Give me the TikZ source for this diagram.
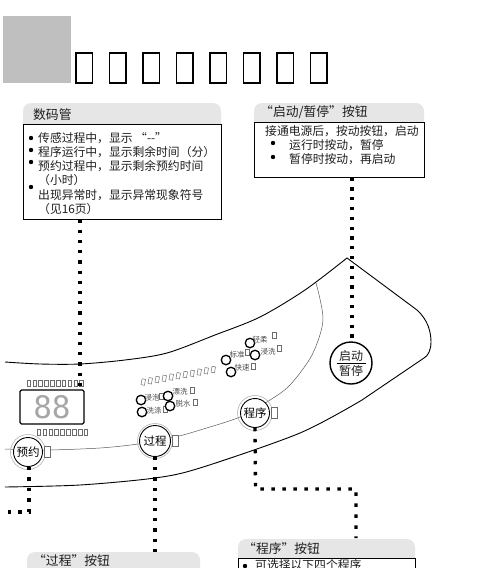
\documentclass[tikz,border=0pt]{standalone}
\usepackage{fontspec}
\setmainfont{Noto Sans CJK SC}
\newfontfamily\lcdfont{DejaVu Sans Mono}
\usetikzlibrary{calc, positioning}
\definecolor{headgray}{RGB}{230,230,230}
\definecolor{inkgray}{RGB}{30,30,30}
\tikzset{
  panelbox/.style={draw=black, line width=1pt, fill=white, inner sep=0pt},
  headtext/.style={anchor=west, inner sep=0pt, font=\fontsize{12.8}{13}\selectfont, text=inkgray},
  bodytext/.style={anchor=west, inner sep=0pt, font=\fontsize{11.8}{12}\selectfont, text=inkgray},
  dotline/.style={line width=3.3pt, dash pattern=on 3.3pt off #1},
  dotline/.default=6.9pt,
  btn/.style={circle, draw=black, line width=0.9pt, fill=white, inner sep=0pt, minimum size=29pt, font=\fontsize{11.5}{11.5}\selectfont},
  lamp/.style={circle, draw=black, line width=1.3pt, fill=white, inner sep=0pt, minimum size=9.5pt},
  lamptext/.style={inner sep=0pt, text=gray!60!black, font=\fontsize{7.5}{8}\selectfont},
  tofu/.style={draw=gray!85!black, line width=0.5pt, fill=white}
}
\begin{document}
\begin{tikzpicture}[x=1pt, y=-1pt]
\useasboundingbox (0,0) rectangle (500,568);

\fill[gray!50] (3,16) rectangle (71,83);
\foreach \i in {0,...,7}
  \draw[line width=1.1pt] ({76+33.5*\i},53) rectangle ({92.5+33.5*\i},83);

\draw[line width=0.9pt]
  plot[smooth] coordinates {(5,362) (40,364) (80,364) (125,360) (167,353) (215,335) (260,317) (305,290) (347,258)}
  -- (417,310) .. controls (428,320) and (431,332) .. (431,342)
  .. controls (431,350) and (428,356) .. (424,358)
  -- (362,400)
  plot[smooth] coordinates {(362,400) (300,433) (200,468) (155,478) (80,485) (5,487)};

\draw[gray!70!black, line width=0.5pt]
  plot[smooth] coordinates {(316,283) (323,320) (312,355) (290,385) (270,400) (240,417) (200,430) (175,437) (138,444) (100,448) (47,450) (5,449)};

\node[panelbox, minimum width=198pt, minimum height=95pt] (tubebox) at (122,171.5) {};
\node[panelbox, minimum width=170pt, minimum height=55pt] (startbox) at (339,149.5) {};
\coordinate (tubefoot) at (80,388);

\node[btn] (btnyuyue) at (28,452) {预约};
\node[btn, minimum size=31pt] (btnguocheng) at (155,441) {过程};
\node[btn] (btnchengxu) at (255,413) {程序};
\node[circle, draw=black, line width=1.4pt, fill=white, minimum size=42pt, inner sep=0pt] (btnstart) at (351,363) {};
\foreach \b in {btnyuyue,btnguocheng,btnchengxu} {
  \draw[gray!70, line width=0.5pt] (\b) circle (17.5);
  \draw[tofu] ($(\b.east)+(1.5,-5.5)$) rectangle ($(\b.east)+(7,5.5)$);
}
\node[inner sep=0pt, font=\fontsize{12}{12}\selectfont, text=inkgray] (txtstart) at (351,356) {启动};
\node[inner sep=0pt, font=\fontsize{12}{12}\selectfont, text=inkgray] (txtpause) at (351,371) {暂停};
\draw[line width=0.7pt] ($(btnstart)+(-14.5,0.5)$) -- ($(btnstart)+(14.5,0.5)$);

\node[draw=black, rounded corners=1.5pt, line width=1.2pt, minimum width=64pt, minimum height=34pt, inner sep=0pt, text=gray!70, font=\lcdfont\fontsize{31}{31}\selectfont] (dispbox) at (52,407) {88};

\foreach \i in {0,...,9}
  \draw[tofu] ({27+5.85*\i},380.5) rectangle ({30.5+5.85*\i},386.5);
\foreach \i in {0,...,8}
  \draw[tofu] ({37+5.9*\i},429) rectangle ({40.5+5.9*\i},435);
\foreach \i in {0,...,10}
  \draw[tofu, rotate around={-10:({143+7*\i},{382-1.25*\i})}] ({141.5+7*\i},{379-1.25*\i}) rectangle ({145+7*\i},{385-1.25*\i});

\foreach \n/\x/\y/\tx/\ty/\fx/\fy/\txt in {
  a/141/400/152/398/161/396/浸泡,
  b/142/412/154/411/165/409/洗涤,
  c/168/396/180/392/192/390/漂洗,
  d/170/406/183/404/195/402/脱水,
  e/226/360/237/355/247/352/标准,
  f/231/372/242/368/253/366/快速,
  g/250/343/260/340/274/335/轻柔,
  h/255/355/268/352/279/348/浸洗} {
  \node[lamp] (lamp\n) at (\x,\y) {};
  \node[lamptext] (lamptxt\n) at (\tx,\ty) {\txt};
  \draw[tofu] ({\fx-1.8},{\fy-3}) rectangle ({\fx+1.8},{\fy+3});
}

\fill[headgray, rounded corners=8pt] (23,103) rectangle (221,135);
\node[panelbox, minimum width=198pt, minimum height=95pt] at (tubebox) {};
\node[headtext] (headtube) at (33,115) {数码管};
\fill[black] (31,138) circle (2.2);
\fill[black] (31,150) circle (2.2);
\fill[black] (31,162) circle (2.2);
\fill[black] (31,187) circle (2.2);
\foreach \n/\y/\txt in {
  a/138/传感过程中，显示 “-{}-”,
  b/152/程序运行中，显示剩余时间（分）,
  c/166/预约过程中，显示剩余预约时间,
  d/180/（小时）,
  e/195/出现异常时，显示异常现象符号,
  f/209/（见16页）}
  \node[bodytext] (tubeline\n) at (38,\y) {\txt};

\fill[headgray, rounded corners=8pt] (254,103) rectangle (424,135);
\node[panelbox, minimum width=170pt, minimum height=55pt] at (startbox) {};
\node[headtext] (headstart) at (260,112) {“启动/暂停”按钮};
\node[bodytext] (startlinea) at (265,131) {接通电源后，按动按钮，启动};
\fill[black] (273,143) circle (2.2);
\fill[black] (273,157) circle (2.2);
\node[bodytext] (startlineb) at (289,145) {运行时按动，暂停};
\node[bodytext] (startlinec) at (289,159) {暂停时按动，再启动};

\fill[headgray, rounded corners=8pt] (27,552) rectangle (200,590);
\node[headtext] (headproc) at (33,561) {“过程”按钮};

\fill[headgray, rounded corners=8pt] (238,539) rectangle (415,590);
\node[panelbox, minimum width=177pt, minimum height=30pt] (progbox) at (326.5,573) {};
\node[headtext] (headprog) at (243,549) {“程序”按钮};
\fill[black] (245,566) circle (2.2);
\node[bodytext] (progline) at (255,565) {可选择以下四个程序};

\coordinate (yuyueturn) at (29,512);
\coordinate (yuyueend) at (5,512);
\coordinate (chengturn) at (255.5,489);
\coordinate (chengdrop) at (356,489);
\coordinate (chengend) at (356,538);
\coordinate (procend) at (155,552);

\draw[dotline] (tubebox.south -| tubefoot) -- (tubefoot);
\draw[dotline=6.5pt] (startbox.south -| btnstart.north) ++(1,0) -- (352,342);
\draw[dotline=7.2pt] (btnyuyue.south -| yuyueturn) -- (yuyueturn) -- (yuyueend);
\draw[dotline] (btnguocheng.south) -- (procend);
\draw[dotline=7.7pt] (btnchengxu.south) -- (chengturn) -- (chengdrop) -- (chengend);
\end{tikzpicture}
\end{document}
